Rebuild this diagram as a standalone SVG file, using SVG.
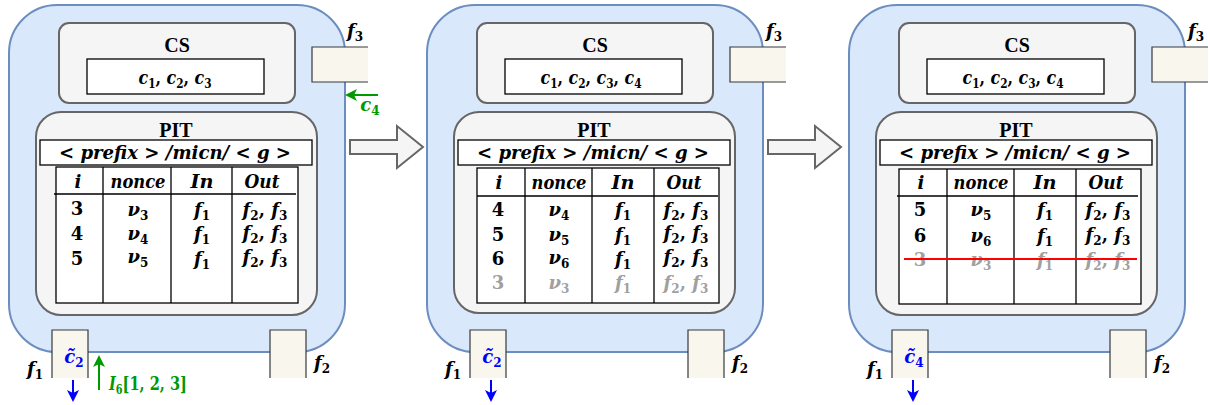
<svg xmlns="http://www.w3.org/2000/svg" width="1210" height="405" viewBox="0 0 1210 405">
<defs>
<style>
.node{fill:#dae8fc;stroke:#6c8ebf;stroke-width:2}
.gray{fill:#f5f5f5;stroke:#666666;stroke-width:2}
.wbox{fill:#ffffff;stroke:#000000;stroke-width:1.3}
.port{fill:#f9f7ed;stroke:none}
.pedge{fill:none;stroke:#36393d;stroke-width:1.2}
.tl{fill:none;stroke:#000000;stroke-width:1.3}
.t{font-family:"Liberation Serif",serif;font-weight:bold;font-size:20px;text-anchor:middle;fill:#000}
.m{font-family:"DejaVu Serif",serif;font-weight:bold;font-style:italic;font-size:18px;text-anchor:middle;fill:#000}
.r{font-style:normal}
.s{font-style:normal;font-size:12px}
.g{fill:#a0a0a0}
.big{fill:#f5f5f5;stroke:#666666;stroke-width:2}
.blue{stroke:#0000ff;stroke-width:2;fill:none}
.green{stroke:#009900;stroke-width:2;fill:none}
</style>
<marker id="hb" viewBox="0 0 12 12" refX="10" refY="6" markerWidth="12" markerHeight="12" markerUnits="userSpaceOnUse" orient="auto"><path d="M0,0L12,6L0,12L3,6Z" fill="#0000ff"/></marker>
<marker id="hg" viewBox="0 0 12 12" refX="10" refY="6" markerWidth="12" markerHeight="12" markerUnits="userSpaceOnUse" orient="auto"><path d="M0,0L12,6L0,12L3,6Z" fill="#009900"/></marker>
</defs>

<!-- Panel 1 -->
<g id="router1">
 <rect class="node" x="9" y="5" width="336" height="347" rx="48"/>
 <g id="cs1">
  <rect class="gray" x="59" y="23" width="236" height="80" rx="10"/>
  <text class="t" x="177" y="52">CS</text>
  <rect class="wbox" x="87" y="59" width="177" height="35"/>
  <text class="m" x="175" y="84" textLength="73" lengthAdjust="spacingAndGlyphs">c<tspan class="s" dy="4">1</tspan><tspan class="r" dy="-4">, </tspan>c<tspan class="s" dy="4">2</tspan><tspan class="r" dy="-4">, </tspan>c<tspan class="s" dy="4">3</tspan></text>
 </g>
 <g id="pit1">
  <rect class="gray" x="36" y="112" width="281" height="203" rx="25"/>
  <text class="t" x="176" y="137">PIT</text>
  <rect class="wbox" x="40" y="140" width="272" height="25"/>
  <text class="m" x="175" y="159" textLength="232" lengthAdjust="spacingAndGlyphs">&lt; prefix &gt; /micn/ &lt; g &gt;</text>
  <g id="table1">
   <rect class="wbox" x="56" y="167" width="242" height="136"/>
   <path class="tl" d="M103,167V303M171,167V303M232,167V303M54,194H296"/>
   <text class="m" x="78" y="188">i</text>
   <text class="m" x="138" y="188" textLength="55" lengthAdjust="spacingAndGlyphs">nonce</text>
   <text class="m" x="202" y="188" textLength="23" lengthAdjust="spacingAndGlyphs">In</text>
   <text class="m" x="262" y="188" textLength="35" lengthAdjust="spacingAndGlyphs">Out</text>
   <text class="m r" x="77" y="215">3</text>
   <text class="m" x="138" y="216">ν<tspan class="s" dy="4">3</tspan></text>
   <text class="m" x="202" y="216">f<tspan class="s" dy="4">1</tspan></text>
   <text class="m" x="265" y="216">f<tspan class="s" dy="4">2</tspan><tspan class="r" dy="-4">, </tspan>f<tspan class="s" dy="4">3</tspan></text>
   <text class="m r" x="77" y="240">4</text>
   <text class="m" x="138" y="240">ν<tspan class="s" dy="4">4</tspan></text>
   <text class="m" x="202" y="240">f<tspan class="s" dy="4">1</tspan></text>
   <text class="m" x="265" y="239">f<tspan class="s" dy="4">2</tspan><tspan class="r" dy="-4">, </tspan>f<tspan class="s" dy="4">3</tspan></text>
   <text class="m r" x="77" y="265">5</text>
   <text class="m" x="138" y="263">ν<tspan class="s" dy="4">5</tspan></text>
   <text class="m" x="202" y="265">f<tspan class="s" dy="4">1</tspan></text>
   <text class="m" x="265" y="263">f<tspan class="s" dy="4">2</tspan><tspan class="r" dy="-4">, </tspan>f<tspan class="s" dy="4">3</tspan></text>
  </g>
 </g>
 <g id="port1_f3">
  <rect class="port" x="312" y="47" width="56" height="35"/>
  <path class="pedge" d="M368,47H312V82H368"/>
  <text class="m" x="355" y="37">f<tspan class="s" dy="4">3</tspan></text>
 </g>
 <g id="port1_f1">
  <rect class="port" x="52" y="330" width="36" height="48"/>
  <path class="pedge" d="M52,378V330H88V378"/>
  <text class="m" x="74" y="363" style="fill:#0000ff">c̃<tspan class="s" dy="4">2</tspan></text>
  <text class="m" x="35" y="375">f<tspan class="s" dy="4">1</tspan></text>
 </g>
 <g id="port1_f2">
  <rect class="port" x="270" y="330" width="36" height="48"/>
  <path class="pedge" d="M270,378V330H306V378"/>
  <text class="m" x="322" y="369">f<tspan class="s" dy="4">2</tspan></text>
 </g>
 <text class="m" x="370" y="111" style="fill:#009900">c<tspan class="s" dy="4">4</tspan></text>
 <text class="m" x="109" y="390" textLength="78" lengthAdjust="spacingAndGlyphs" style="fill:#009900;text-anchor:start">I<tspan class="s" dy="4">6</tspan><tspan class="r" dy="-4">[1, 2, 3]</tspan></text>
</g>

<!-- Panel 2 -->
<g id="router2" transform="translate(418,0)">
 <rect class="node" x="9" y="5" width="336" height="347" rx="48"/>
 <g id="cs2">
  <rect class="gray" x="59" y="23" width="236" height="80" rx="10"/>
  <text class="t" x="177" y="52">CS</text>
  <rect class="wbox" x="87" y="59" width="177" height="35"/>
  <text class="m" x="173" y="84" textLength="101" lengthAdjust="spacingAndGlyphs">c<tspan class="s" dy="4">1</tspan><tspan class="r" dy="-4">, </tspan>c<tspan class="s" dy="4">2</tspan><tspan class="r" dy="-4">, </tspan>c<tspan class="s" dy="4">3</tspan><tspan class="r" dy="-4">, </tspan>c<tspan class="s" dy="4">4</tspan></text>
 </g>
 <g id="pit2">
  <rect class="gray" x="36" y="112" width="281" height="201" rx="25"/>
  <text class="t" x="176" y="137">PIT</text>
  <rect class="wbox" x="40" y="140" width="272" height="25"/>
  <text class="m" x="175" y="159" textLength="232" lengthAdjust="spacingAndGlyphs">&lt; prefix &gt; /micn/ &lt; g &gt;</text>
  <g id="table2" transform="translate(3,0)">
   <rect class="wbox" x="56" y="168" width="242" height="135"/>
   <path class="tl" d="M104,168V303M171,168V303M233,168V303M56,196H297"/>
   <text class="m" x="78" y="189">i</text>
   <text class="m" x="138" y="189" textLength="55" lengthAdjust="spacingAndGlyphs">nonce</text>
   <text class="m" x="202" y="189" textLength="23" lengthAdjust="spacingAndGlyphs">In</text>
   <text class="m" x="263" y="189" textLength="35" lengthAdjust="spacingAndGlyphs">Out</text>
   <text class="m r" x="77" y="216">4</text>
   <text class="m" x="138" y="216">ν<tspan class="s" dy="4">4</tspan></text>
   <text class="m" x="202" y="216">f<tspan class="s" dy="4">1</tspan></text>
   <text class="m" x="265" y="216">f<tspan class="s" dy="4">2</tspan><tspan class="r" dy="-4">, </tspan>f<tspan class="s" dy="4">3</tspan></text>
   <text class="m r" x="77" y="241">5</text>
   <text class="m" x="138" y="241">ν<tspan class="s" dy="4">5</tspan></text>
   <text class="m" x="202" y="241">f<tspan class="s" dy="4">1</tspan></text>
   <text class="m" x="265" y="239">f<tspan class="s" dy="4">2</tspan><tspan class="r" dy="-4">, </tspan>f<tspan class="s" dy="4">3</tspan></text>
   <text class="m r" x="77" y="265">6</text>
   <text class="m" x="138" y="264">ν<tspan class="s" dy="4">6</tspan></text>
   <text class="m" x="202" y="265">f<tspan class="s" dy="4">1</tspan></text>
   <text class="m" x="265" y="263">f<tspan class="s" dy="4">2</tspan><tspan class="r" dy="-4">, </tspan>f<tspan class="s" dy="4">3</tspan></text>
   <text class="m r g" x="77" y="289">3</text>
   <text class="m g" x="138" y="289">ν<tspan class="s" dy="4">3</tspan></text>
   <text class="m g" x="202" y="289">f<tspan class="s" dy="4">1</tspan></text>
   <text class="m g" x="265" y="289">f<tspan class="s" dy="4">2</tspan><tspan class="r" dy="-4">, </tspan>f<tspan class="s" dy="4">3</tspan></text>
  </g>
 </g>
 <g id="port2_f3">
  <rect class="port" x="312" y="47" width="56" height="35"/>
  <path class="pedge" d="M368,47H312V82H368"/>
  <text class="m" x="356" y="37">f<tspan class="s" dy="4">3</tspan></text>
 </g>
 <g id="port2_f1">
  <rect class="port" x="52" y="330" width="36" height="48"/>
  <path class="pedge" d="M52,378V330H88V378"/>
  <text class="m" x="74" y="363" style="fill:#0000ff">c̃<tspan class="s" dy="4">2</tspan></text>
  <text class="m" x="35" y="375">f<tspan class="s" dy="4">1</tspan></text>
 </g>
 <g id="port2_f2">
  <rect class="port" x="270" y="330" width="36" height="48"/>
  <path class="pedge" d="M270,378V330H306V378"/>
  <text class="m" x="322" y="369">f<tspan class="s" dy="4">2</tspan></text>
 </g>
</g>

<!-- Panel 3 -->
<g id="router3" transform="translate(840,0)">
 <rect class="node" x="9" y="5" width="336" height="347" rx="48"/>
 <g id="cs3">
  <rect class="gray" x="59" y="23" width="236" height="80" rx="10"/>
  <text class="t" x="177" y="52">CS</text>
  <rect class="wbox" x="87" y="59" width="177" height="35"/>
  <text class="m" x="173" y="84" textLength="101" lengthAdjust="spacingAndGlyphs">c<tspan class="s" dy="4">1</tspan><tspan class="r" dy="-4">, </tspan>c<tspan class="s" dy="4">2</tspan><tspan class="r" dy="-4">, </tspan>c<tspan class="s" dy="4">3</tspan><tspan class="r" dy="-4">, </tspan>c<tspan class="s" dy="4">4</tspan></text>
 </g>
 <g id="pit3">
  <rect class="gray" x="36" y="112" width="281" height="203" rx="25"/>
  <text class="t" x="176" y="137">PIT</text>
  <rect class="wbox" x="40" y="140" width="272" height="25"/>
  <text class="m" x="175" y="159" textLength="232" lengthAdjust="spacingAndGlyphs">&lt; prefix &gt; /micn/ &lt; g &gt;</text>
  <g id="table3" transform="translate(3,0)">
   <rect class="wbox" x="56" y="169" width="242" height="135"/>
   <path class="tl" d="M104,169V304M171,169V304M233,169V304M54,196H295"/>
   <text class="m" x="78" y="189">i</text>
   <text class="m" x="138" y="189" textLength="55" lengthAdjust="spacingAndGlyphs">nonce</text>
   <text class="m" x="202" y="189" textLength="23" lengthAdjust="spacingAndGlyphs">In</text>
   <text class="m" x="263" y="189" textLength="35" lengthAdjust="spacingAndGlyphs">Out</text>
   <text class="m r" x="77" y="216">5</text>
   <text class="m" x="138" y="216">ν<tspan class="s" dy="4">5</tspan></text>
   <text class="m" x="202" y="216">f<tspan class="s" dy="4">1</tspan></text>
   <text class="m" x="265" y="216">f<tspan class="s" dy="4">2</tspan><tspan class="r" dy="-4">, </tspan>f<tspan class="s" dy="4">3</tspan></text>
   <text class="m r" x="77" y="242">6</text>
   <text class="m" x="138" y="242">ν<tspan class="s" dy="4">6</tspan></text>
   <text class="m" x="202" y="242">f<tspan class="s" dy="4">1</tspan></text>
   <text class="m" x="265" y="241">f<tspan class="s" dy="4">2</tspan><tspan class="r" dy="-4">, </tspan>f<tspan class="s" dy="4">3</tspan></text>
   <text class="m r g" x="77" y="266">3</text>
   <text class="m g" x="138" y="266">ν<tspan class="s" dy="4">3</tspan></text>
   <text class="m g" x="202" y="266">f<tspan class="s" dy="4">1</tspan></text>
   <text class="m g" x="265" y="266">f<tspan class="s" dy="4">2</tspan><tspan class="r" dy="-4">, </tspan>f<tspan class="s" dy="4">3</tspan></text>
   <line x1="61" y1="259" x2="294" y2="259" stroke="#ff0000" stroke-width="2"/>
  </g>
 </g>
 <g id="port3_f3">
  <rect class="port" x="312" y="47" width="56" height="35"/>
  <path class="pedge" d="M368,47H312V82H368"/>
  <text class="m" x="356" y="37">f<tspan class="s" dy="4">3</tspan></text>
 </g>
 <g id="port3_f1">
  <rect class="port" x="52" y="330" width="36" height="48"/>
  <path class="pedge" d="M52,378V330H88V378"/>
  <text class="m" x="74" y="363" style="fill:#0000ff">c̃<tspan class="s" dy="4">4</tspan></text>
  <text class="m" x="35" y="375">f<tspan class="s" dy="4">1</tspan></text>
 </g>
 <g id="port3_f2">
  <rect class="port" x="270" y="330" width="36" height="48"/>
  <path class="pedge" d="M270,378V330H306V378"/>
  <text class="m" x="322" y="369">f<tspan class="s" dy="4">2</tspan></text>
 </g>
</g>

<g id="connectors">
 <polygon class="big" points="350,140 397,140 397,126 423,147 397,168 397,154 350,154"/>
 <polygon class="big" points="768,140 815,140 815,126 841,147 815,168 815,154 768,154"/>
 <line class="blue" x1="73" y1="380" x2="73" y2="400" marker-end="url(#hb)"/>
 <line class="blue" x1="491" y1="380" x2="491" y2="400" marker-end="url(#hb)"/>
 <line class="blue" x1="913" y1="380" x2="913" y2="400" marker-end="url(#hb)"/>
 <line class="green" x1="99" y1="390" x2="99" y2="357" marker-end="url(#hg)"/>
 <line class="green" x1="378" y1="95" x2="347" y2="95" marker-end="url(#hg)"/>
</g>
</svg>
